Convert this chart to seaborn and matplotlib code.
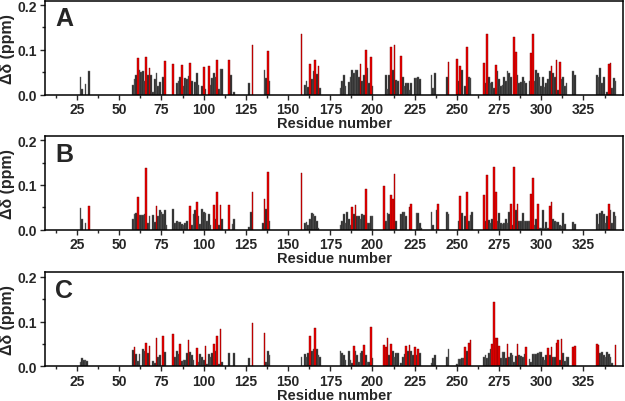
import matplotlib
matplotlib.use("Agg")
import matplotlib.pyplot as plt
import seaborn as sns
import pandas as pd
from matplotlib.ticker import MultipleLocator, FormatStrFormatter

# panel A
res_a = [27, 28, 30, 32,
         58, 59, 60, 61, 62, 63, 64, 65, 66, 67, 68, 69, 70, 71, 72, 73, 74, 76, 77,
         82, 84, 85, 86, 87, 88, 89, 90, 91, 92, 93, 95, 96, 97, 99, 100, 101, 103,
         104, 105, 106, 107, 108, 109, 110, 111, 115, 116, 118, 127, 129, 136, 137, 138, 139,
         158, 160, 161, 162, 163, 164, 165, 166, 167, 168, 169,
         181, 182, 183, 184, 186, 187, 188, 189, 190, 191, 192, 193, 194, 195, 196, 197, 198, 199, 200,
         208, 209, 210, 211, 212, 213, 214, 215, 217, 218, 219, 220, 221, 222, 223, 225, 226, 227, 228,
         235, 236, 237, 244, 245, 250, 251, 252, 253, 255, 256, 257, 258,
         266, 267, 268, 269, 270, 271, 272, 273, 274, 275, 276, 277, 278, 279, 280, 281, 282,
         284, 285, 286, 287, 288, 289, 290, 291, 293, 294, 295, 296, 297, 298, 299, 300,
         301, 302, 303, 304, 305, 306, 307, 308, 309, 310, 311, 312, 313, 314, 315,
         319, 320, 333, 334, 335, 336, 337, 339, 340, 341, 342, 343, 344]
dd_a = [.039, .012, .024, .052,
        .021, .035, .045, .081, .054, .050, .052, .030, .084, .045, .060, .045, .005, .035, .048, .020, .028, .040, .075,
        .068, .025, .030, .040, .066, .020, .038, .035, .042, .070, .030, .028, .048, .022, .020, .062, .012, .065,
        .022, .038, .048, .040, .077, .012, .058, .058, .077, .043, .005, .025, .110, .055, .037, .097, .030,
        .135, .022, .030, .018, .068, .035, .052, .077, .047, .063, .015,
        .015, .030, .045, .020, .028, .040, .055, .048, .055, .055, .040, .068, .030, .045, .100, .060, .025, .085, .020,
        .045, .012, .045, .107, .055, .112, .032, .030, .087, .040, .020, .025, .025, .010, .025, .038, .037, .040, .035,
        .045, .015, .048, .040, .072, .080, .030, .064, .055, .020, .107, .040, .038,
        .070, .025, .136, .040, .025, .028, .015, .066, .052, .035, .020, .022, .040, .030, .052, .048, .040,
        .128, .095, .045, .025, .028, .040, .030, .025, .030, .092, .135, .030, .055, .048, .040, .020,
        .040, .018, .025, .035, .052, .065, .048, .040, .077, .010, .073, .035, .040, .020, .025,
        .052, .045, .045, .040, .060, .025, .040, .005, .068, .070, .015, .037, .030]
red_a = [61, 66, 68, 77, 82, 87, 92, 100, 103, 108, 115, 129, 138, 158, 163, 166, 168,
         193, 196, 199, 211, 213, 217, 245, 250, 252, 256, 266, 268, 273, 284, 285,
         294, 295, 306, 309, 311, 340, 341]

# panel B
res_b = [27, 28, 30, 32,
         58, 59, 60, 61, 62, 63, 64, 65, 66, 67, 68, 70, 71, 72, 73, 74, 75, 76, 77, 78,
         82, 83, 84, 85, 86, 87, 88, 89, 90, 92, 93, 94, 95, 96, 97, 98, 99, 100, 101,
         102, 103, 104, 106, 107, 108, 109, 110, 111, 115, 117, 118, 127, 128, 129,
         135, 136, 137, 138, 139, 158, 160, 161, 162, 163, 164, 165, 166, 167, 168,
         181, 182, 183, 184, 185, 186, 187, 188, 189, 190, 191, 192, 193, 194, 195, 196, 197, 198, 199, 200,
         207, 208, 209, 210, 211, 212, 213, 214, 217, 218, 219, 220, 222, 223, 226, 227, 228, 229,
         235, 236, 238, 239, 244, 245, 251, 252, 253, 255, 256, 257, 258, 259,
         266, 267, 268, 269, 270, 271, 272, 273, 274, 275, 276, 277, 278, 279, 280, 281, 282, 283,
         284, 285, 286, 287, 288, 289, 290, 291, 292, 293, 294, 295, 296, 297, 298, 299, 300,
         301, 302, 303, 304, 305, 306, 307, 308, 309, 310, 311, 312, 313, 314, 319, 320,
         333, 334, 335, 336, 337, 338, 339, 340, 341, 342, 343, 344]
dd_b = [.048, .025, .015, .052,
        .025, .035, .037, .072, .032, .033, .033, .035, .137, .015, .030, .033, .018, .052, .030, .043, .040, .035, .045, .010,
        .047, .015, .020, .018, .018, .012, .010, .015, .020, .053, .010, .035, .045, .063, .030, .012, .047, .040, .038,
        .020, .035, .010, .055, .025, .085, .010, .055, .025, .056, .012, .025, .007, .040, .085,
        .015, .068, .046, .130, .020, .127, .015, .017, .010, .025, .038, .036, .030, .020, .005,
        .010, .020, .035, .015, .040, .025, .010, .050, .035, .055, .030, .030, .025, .035, .032, .092, .015, .015, .030, .030,
        .097, .020, .038, .035, .078, .068, .125, .020, .035, .040, .040, .030, .050, .058, .037, .037, .015, .005,
        .040, .010, .043, .058, .040, .035, .020, .075, .037, .030, .085, .020, .033, .040,
        .077, .020, .122, .022, .015, .025, .140, .085, .020, .037, .015, .013, .015, .025, .015, .040, .058, .010,
        .140, .045, .058, .020, .020, .037, .020, .020, .020, .020, .080, .115, .010, .025, .058, .005, .003,
        .045, .005, .017, .005, .053, .063, .025, .020, .018, .018, .010, .008, .038, .012, .018, .012,
        .035, .013, .038, .042, .035, .015, .030, .058, .045, .015, .040, .030]
red_b = [32, 61, 66, 72, 92, 96, 106, 108, 110, 115, 129, 136, 138, 158, 188, 190, 196,
         207, 211, 212, 213, 222, 223, 239, 252, 256, 266, 268, 272, 273, 282, 284, 286,
         294, 295, 298, 305, 306, 340]

# panel C
res_c = [27, 28, 29, 30, 31,
         58, 59, 60, 61, 62, 64, 65, 66, 67, 68, 70, 71, 72, 73, 74, 76, 77,
         82, 83, 84, 85, 86, 87, 88, 89, 90, 91, 92, 93, 94, 96, 97, 98, 99, 100, 101, 102, 103,
         104, 105, 106, 107, 108, 109, 110, 111, 115, 118, 127, 129, 136, 137, 138, 139,
         158, 160, 161, 162, 163, 164, 165, 166, 167, 168, 169,
         181, 182, 183, 184, 186, 187, 188, 189, 190, 191, 192, 193, 194, 195, 196, 197, 198, 199, 200,
         207, 208, 209, 210, 211, 212, 213, 214, 215, 217, 218, 219, 220, 221,
         222, 223, 224, 225, 226, 227, 228, 235, 236, 237, 244, 245,
         250, 251, 252, 253, 254, 255, 256, 257, 258,
         266, 267, 268, 269, 270, 271, 272, 273, 274, 275, 276, 277, 278, 279, 280, 281, 282, 283,
         284, 285, 286, 287, 288, 289, 290, 291, 293, 294, 295, 296, 297, 298, 299, 300,
         301, 302, 303, 304, 305, 306, 307, 308, 309, 310, 311, 312, 313, 314, 315, 316, 319, 320,
         333, 334, 335, 336, 337, 338, 339, 340, 341, 342, 344]
dd_c = [.010, .018, .015, .015, .013,
        .037, .043, .028, .012, .028, .040, .035, .053, .030, .045, .012, .008, .063, .022, .025, .068, .032,
        .072, .020, .035, .028, .050, .012, .014, .014, .030, .060, .033, .025, .015, .042, .010, .028, .020, .015, .045, .005, .028,
        .020, .030, .050, .035, .068, .005, .083, .010, .030, .030, .018, .098, .075, .010, .035, .025,
        .020, .028, .020, .030, .067, .035, .040, .086, .040, .025, .022,
        .035, .030, .025, .015, .034, .015, .008, .045, .035, .025, .010, .030, .035, .048, .025, .010, .010, .088, .018,
        .047, .043, .063, .025, .050, .035, .020, .030, .030, .008, .020, .028, .045, .035,
        .048, .035, .025, .043, .025, .040, .030, .008, .018, .025, .020, .040,
        .005, .017, .017, .018, .018, .043, .035, .053, .060,
        .020, .025, .018, .030, .040, .050, .143, .063, .063, .045, .018, .033, .032, .018, .050, .020, .030, .025,
        .010, .023, .050, .025, .023, .020, .028, .043, .017, .010, .028, .028, .028, .030, .032, .033,
        .020, .015, .025, .042, .025, .043, .020, .020, .052, .058, .015, .062, .030, .012, .022, .022, .043, .046,
        .050, .048, .030, .033, .025, .022, .032, .028, .020, .008, .048]
red_c = [59, 66, 68, 72, 76, 82, 86, 91, 96, 101, 106, 108, 110, 129, 136, 163, 166,
         189, 195, 199, 207, 208, 209, 211, 220, 222, 225, 227, 255, 257, 258,
         271, 272, 273, 274, 275, 280, 286, 291, 304, 306, 309, 310, 312, 319, 320,
         333, 334, 344]

sns.set_style("ticks")
plt.rcParams['font.family'] = ['Liberation Sans', 'DejaVu Sans']
plt.rcParams['font.weight'] = 'bold'
plt.rcParams['axes.labelweight'] = 'bold'

fig = plt.figure(figsize=(6.25, 4.02), dpi=100)

panels = [("A", res_a, dd_a, red_a, 0.762),
          ("B", res_b, dd_b, red_b, 0.426),
          ("C", res_c, dd_c, red_c, 0.086)]

for letter, res, dd, red, bottom in panels:
    ax = fig.add_axes([0.072, bottom, 0.925, 0.234])
    df = pd.DataFrame({"res": res, "dd": dd})
    df["hl"] = df["res"].isin(red).map({True: "red", False: "gray"})
    sns.barplot(data=df, x="res", y="dd", hue="hl",
                palette={"gray": "#262626", "red": "#ee0000"},
                native_scale=True, dodge=False, width=1.0, saturation=1,
                legend=False, ax=ax)
    for p in ax.patches:
        fc = p.get_facecolor()
        if fc[0] > 0.5:
            p.set_edgecolor("#7a0000")
        else:
            p.set_edgecolor("#6e6e6e")
        p.set_linewidth(0.3)

    ax.set_xlim(6, 348.5)
    ax.set_ylim(0, 0.21)
    ax.xaxis.set_major_locator(MultipleLocator(25))
    ax.xaxis.set_minor_locator(MultipleLocator(12.5))
    ax.yaxis.set_major_locator(MultipleLocator(0.1))
    ax.yaxis.set_minor_locator(MultipleLocator(0.05))
    ax.yaxis.set_major_formatter(FormatStrFormatter("%.1f"))
    ax.tick_params(which="major", direction="out", length=3.5, width=1,
                   labelsize=10, pad=2)
    ax.tick_params(which="minor", direction="out", length=2, width=1)
    for lab in ax.get_xticklabels() + ax.get_yticklabels():
        lab.set_fontweight("bold")
    for s in ax.spines.values():
        s.set_visible(True)
        s.set_linewidth(1.1)
        s.set_color("black")
    ax.set_xlabel("Residue number", fontsize=10.5, fontweight="bold", labelpad=0)
    ax.set_ylabel("Δδ (ppm)", fontsize=11.5, fontweight="bold", labelpad=2)
    ax.text(0.018, 0.81, letter, transform=ax.transAxes, fontsize=18,
            fontweight="bold", ha="left", va="center")

fig.savefig("out.png", dpi=100)
